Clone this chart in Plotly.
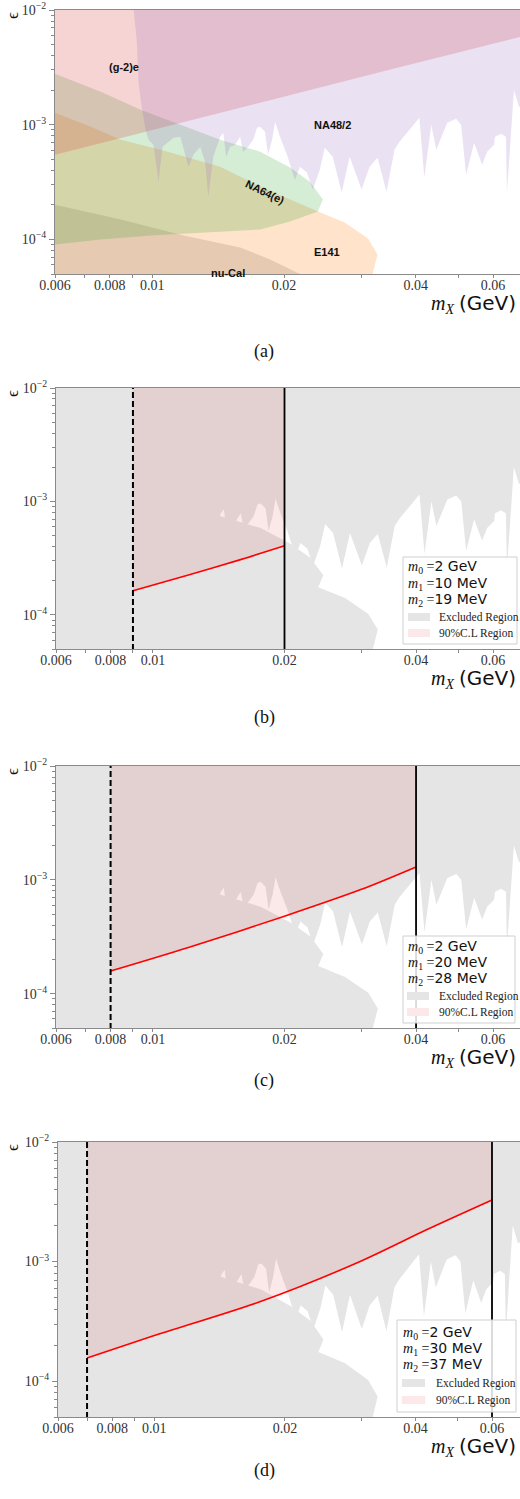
import math
import plotly.graph_objects as go

W, H = 520, 1499

# ---------------- data: dark-photon mass m_X (GeV) vs epsilon ----------------
# (g-2)e : excluded above this edge
g2e_m = [0.006, 0.00992, 0.01764, 0.0348, 0.07]
g2e_eps = [5.48e-4, 8.87e-4, 1.553e-3, 3.01e-3, 5.9e-3]

# NA64(e) : closed contour (upper edge, then lower edge back)
na64_m = [0.006, 0.00763, 0.00941, 0.0116, 0.0143, 0.01764, 0.02064, 0.02291, 0.02453,
          0.02389, 0.02064, 0.01764, 0.01288, 0.00992, 0.00763, 0.006]
na64_eps = [2.78e-3, 1.94e-3, 1.35e-3, 1.0e-3, 7.41e-4, 5.82e-4, 4.23e-4, 3.19e-4, 2.23e-4,
            1.75e-4, 1.434e-4, 1.222e-4, 1.151e-4, 1.083e-4, 1.0e-4, 9.05e-5]

# E141 : excluded below this edge
e141_m = [0.006, 0.00724, 0.00848, 0.01045, 0.0143, 0.01764, 0.02389, 0.02752, 0.0311, 0.0327, 0.03186]
e141_eps = [1.272e-3, 9.61e-4, 7.41e-4, 6.06e-4, 4.31e-4, 2.89e-4, 1.75e-4, 1.405e-4, 1.02e-4, 7.41e-5, 5.0e-5]

# nu-Cal : excluded below this edge
nucal_m = [0.006, 0.00848, 0.01179, 0.01588, 0.01858, 0.02175]
nucal_eps = [2.01e-4, 1.49e-4, 1.083e-4, 8.52e-5, 6.70e-5, 5.0e-5]

# NA48/2 : excluded above this (jagged) edge
na48_m = [0.00907, 0.00922, 0.00931, 0.00946, 0.00966, 0.00981, 0.01007, 0.01034, 0.01056, 0.01119,
          0.0116, 0.01191, 0.0121, 0.01242, 0.01288, 0.01322, 0.01343, 0.01379, 0.0143, 0.01453,
          0.01476, 0.01507, 0.01547, 0.01588, 0.01613, 0.01656, 0.017, 0.01736, 0.01764, 0.0181,
          0.01839, 0.01878, 0.01908, 0.01958, 0.02031, 0.02118, 0.02175, 0.02256, 0.02327, 0.02414,
          0.02478, 0.02584, 0.02708, 0.02824, 0.03007, 0.03136, 0.0327, 0.03428, 0.03575, 0.0367,
          0.04074, 0.04182, 0.04338, 0.04453, 0.04717, 0.04944, 0.05075, 0.05209, 0.05433, 0.05666,
          0.05817, 0.06033, 0.06064, 0.06258, 0.06423, 0.06457, 0.06698, 0.06877]
na48_eps = [1.0e-2, 5.48e-3, 2.32e-3, 1.434e-3, 9.05e-4, 7.41e-4, 6.70e-4, 3.19e-4, 6.44e-4, 7.71e-4,
            7.86e-4, 5.27e-4, 4.31e-4, 5.48e-4, 6.44e-4, 4.67e-4, 2.37e-4, 5.27e-4, 7.86e-4, 8.52e-4,
            5.27e-4, 6.44e-4, 6.70e-4, 7.86e-4, 5.82e-4, 6.44e-4, 7.41e-4, 9.42e-4, 9.61e-4, 8.69e-4,
            5.48e-4, 7.41e-4, 1.062e-3, 7.86e-4, 5.48e-4, 3.32e-4, 4.31e-4, 3.83e-4, 2.72e-4, 4.06e-4,
            6.31e-4, 5.27e-4, 2.56e-4, 5.27e-4, 2.72e-4, 4.31e-4, 5.16e-4, 2.61e-4, 6.06e-4, 7.12e-4,
            1.151e-3, 3.46e-4, 1.0e-3, 6.06e-4, 1.041e-3, 1.128e-3, 1.0e-3, 3.67e-4, 6.97e-4, 4.49e-4,
            5.82e-4, 6.70e-4, 7.86e-4, 8.35e-4, 7.86e-4, 2.56e-4, 2.01e-3, 1.434e-3]
assert len(na48_m) == len(na48_eps)

# panels (b)-(d): model parameters, kinematic limits and 90% C.L. lower curves
m0_gev = [2, 2, 2]
m1_mev = [10, 20, 30]
m2_mev = [19, 28, 37]
dash_x = [0.009, 0.008, 0.007]
solid_x = [0.02, 0.04, 0.06]
cl_m = [[0.009, 0.012, 0.016, 0.02],
        [0.008, 0.012, 0.02, 0.03, 0.04],
        [0.007, 0.01, 0.0175, 0.0298, 0.0425, 0.06]]
cl_eps = [[1.63e-4, 2.23e-4, 3.1e-4, 4.06e-4],
          [1.58e-4, 2.53e-4, 4.8e-4, 8.26e-4, 1.3e-3],
          [1.56e-4, 2.4e-4, 4.6e-4, 1.0e-3, 1.85e-3, 3.27e-3]]

x_labels = [0.006, 0.008, 0.01, 0.02, 0.04, 0.06]
x_label_text = ["0.006", "0.008", "0.01", "0.02", "0.04", "0.06"]
x_minor = [0.007, 0.009, 0.03, 0.05, 0.07]
y_major = [1e-4, 1e-3, 1e-2]
y_major_text = ["10<sup>\u22124</sup>", "10<sup>\u22123</sup>", "10<sup>\u22122</sup>"]
y_minor = [k * 10.0 ** e for e in (-5, -4, -3) for k in range(2, 10) if 5e-5 <= k * 10.0 ** e <= 1e-2]

YMIN, YMAX = 5e-5, 1e-2
XL, XR, YB, YT = 0.006, 0.075, 4.9e-5, 1.02e-2

# ---------------- style ----------------
AX = "#8a8a8a"
GRAY = "rgb(229,229,229)"
SERIF = "Liberation Serif"
SANS = "DejaVu Sans"

panels = [
    dict(left=55, top=10, bottom=274, dec=438),
    dict(left=56, top=388, bottom=649, dec=437),
    dict(left=56, top=766, bottom=1028, dec=437),
    dict(left=58, top=1142, bottom=1417, dec=434),
]


def px(x, y):
    return x / W, 1 - y / H


def poly_above(ms, es):
    return list(ms) + [XR, XL], list(es) + [YT, YT]


def poly_below(ms, es):
    return list(ms) + [ms[-1], ms[0]], list(es) + [YB, YB]


def na48_poly():
    return list(na48_m) + [XR, XR, na48_m[0]], list(na48_eps) + [na48_eps[-1], YT, YT]


def white_poly():
    return list(na48_m) + [XR, XR, na48_m[0]], list(na48_eps) + [na48_eps[-1], YB, YB]


fig = go.Figure()


def axes_ids(i):
    return ("x" if i == 0 else f"x{i+1}"), ("y" if i == 0 else f"y{i+1}")


def add_fill(xs, ys, color, i):
    xa, ya = axes_ids(i)
    fig.add_trace(go.Scatter(x=xs, y=ys, mode="lines", fill="toself", fillcolor=color,
                             line=dict(width=0, color=color), hoverinfo="skip", showlegend=False,
                             xaxis=xa, yaxis=ya))


# ---- panel (a): individual constraints ----
add_fill(*poly_below(nucal_m, nucal_eps), "rgba(127,127,127,0.25)", 0)
add_fill(*poly_below(e141_m, e141_eps), "rgba(255,127,14,0.22)", 0)
add_fill(na64_m, na64_eps, "rgba(44,160,44,0.2)", 0)
add_fill(*poly_above(g2e_m, g2e_eps), "rgba(214,39,40,0.2)", 0)
add_fill(*na48_poly(), "rgba(148,103,189,0.2)", 0)

# ---- panels (b)-(d) ----
for k in range(3):
    i = k + 1
    xa, ya = axes_ids(i)
    add_fill(*white_poly(), "white", i)
    add_fill(*poly_above(g2e_m, g2e_eps), GRAY, i)
    add_fill(na64_m, na64_eps, GRAY, i)
    add_fill(*poly_below(e141_m, e141_eps), GRAY, i)
    add_fill(*poly_below(nucal_m, nucal_eps), GRAY, i)
    # 90% C.L. region: from the top of the plot down to the red curve
    fig.add_trace(go.Scatter(x=[cl_m[k][0], cl_m[k][-1]], y=[YT, YT], mode="lines",
                             line=dict(width=0), hoverinfo="skip", showlegend=False, xaxis=xa, yaxis=ya))
    fig.add_trace(go.Scatter(x=cl_m[k], y=cl_eps[k], mode="lines", fill="tonexty",
                             fillcolor="rgba(214,39,40,0.1)",
                             line=dict(color="red", width=1.6, shape="spline", smoothing=0.8),
                             hoverinfo="skip", showlegend=False, xaxis=xa, yaxis=ya))
    fig.add_trace(go.Scatter(x=[dash_x[k], dash_x[k]], y=[YB, YT], mode="lines",
                             line=dict(color="black", width=2, dash="6px,3px"),
                             hoverinfo="skip", showlegend=False, xaxis=xa, yaxis=ya))
    fig.add_trace(go.Scatter(x=[solid_x[k], solid_x[k]], y=[YB, YT], mode="lines",
                             line=dict(color="black", width=1.8),
                             hoverinfo="skip", showlegend=False, xaxis=xa, yaxis=ya))

# ---------------- axes ----------------
layout = dict(width=W, height=H, margin=dict(l=0, r=0, t=0, b=0), template="none",
              paper_bgcolor="white", plot_bgcolor="white", showlegend=False)
lx0 = math.log10(0.006)
shapes, annotations = [], []
for i, p in enumerate(panels):
    xk = "xaxis" if i == 0 else f"xaxis{i+1}"
    yk = "yaxis" if i == 0 else f"yaxis{i+1}"
    xid, yid = axes_ids(i)
    layout[xk] = dict(type="log", domain=[p["left"] / W, 1.0],
                      range=[lx0, lx0 + (W - p["left"]) / p["dec"]], anchor=yid,
                      showline=True, linecolor=AX, linewidth=1, mirror=True,
                      showgrid=False, zeroline=False, ticks="outside", ticklen=3, tickwidth=1,
                      tickcolor=AX, tickmode="array", tickvals=x_labels, ticktext=x_label_text,
                      ticklabelstandoff=-5,
                      tickfont=dict(family=SERIF, size=14, color="#333"),
                      minor=dict(tickmode="array", tickvals=x_minor, ticks="outside", ticklen=3,
                                 tickcolor=AX, showgrid=False))
    layout[yk] = dict(type="log", domain=[1 - p["bottom"] / H, 1 - p["top"] / H],
                      range=[math.log10(YMIN), math.log10(YMAX)], anchor=xid,
                      showline=True, linecolor=AX, linewidth=1, mirror=False,
                      showgrid=False, zeroline=False, ticks="outside", ticklen=5, tickwidth=1,
                      tickcolor=AX, tickmode="array", tickvals=y_major, ticktext=y_major_text,
                      tickfont=dict(family=SERIF, size=14, color="#333"),
                      minor=dict(tickmode="array", tickvals=y_minor, ticks="outside", ticklen=3,
                                 tickcolor=AX, showgrid=False))
    if i > 0:
        shapes.append(dict(type="rect", xref=f"{xid} domain", yref=f"{yid} domain",
                           x0=0, x1=1, y0=0, y1=1, fillcolor=GRAY, line=dict(width=0), layer="below"))
    # y label (epsilon)
    ex, ey = px(12, p["top"] + 6)
    annotations.append(dict(x=ex, y=ey, xref="paper", yref="paper", text="\u03f5", showarrow=False,
                            xanchor="center", yanchor="middle",
                            textangle=-90, font=dict(family=SERIF, size=17, color="#111")))

# x titles and captions
xt_y = [304, 679, 1058, 1447]
cap_y = [339, 717, 1093, 1483]
for i, lab in enumerate(["(a)", "(b)", "(c)", "(d)"]):
    tx, ty = px(518, xt_y[i])
    annotations.append(dict(x=tx, y=ty, xref="paper", yref="paper", xanchor="right", yanchor="middle",
                            showarrow=False,
                            text='<i>m</i><sub><i>X</i></sub> <span style="font-family:DejaVu Sans">(GeV)</span>',
                            font=dict(family=SERIF, size=20, color="#111")))
    cx_, cy_ = px(264, cap_y[i])
    annotations.append(dict(x=cx_, y=cy_, xref="paper", yref="paper", showarrow=False, text=lab,
                            font=dict(family=SERIF, size=18, color="#111")))

# panel (a) region labels
for text, x, y, ang in [("(g-2)e", 107, 59, 0), ("NA48/2", 332, 117, 0), ("NA64(e)", 265, 175, 26),
                        ("E141", 327, 244, 0), ("nu-Cal", 228, 265, 0)]:
    ax_, ay_ = px(x, y)
    annotations.append(dict(x=ax_, y=ay_, xref="paper", yref="paper", showarrow=False, text=f"<b>{text}</b>",
                            textangle=ang, font=dict(family="Liberation Sans", size=11, color="#111")))

# legends for (b)-(d)
legend_geo = [
    dict(box=(403, 557, 517, 644), rows=[567, 584, 600, 617, 633], tx=407, px0=408, px1=430, sx=437),
    dict(box=(403, 936, 515, 1023), rows=[947, 963, 979, 996, 1012], tx=407, px0=407, px1=429, sx=437),
    dict(box=(397, 1320, 516, 1412), rows=[1333, 1349, 1365, 1383, 1400], tx=402, px0=402, px1=425, sx=434),
]
for k, g in enumerate(legend_geo):
    x0, y0, x1, y1 = g["box"]
    a0, b0 = px(x0, y1)
    a1, b1 = px(x1, y0)
    shapes.append(dict(type="rect", xref="paper", yref="paper", x0=a0, y0=b0, x1=a1, y1=b1,
                       fillcolor="rgba(255,255,255,0.85)", line=dict(color="#cfcfcf", width=1)))
    vals = [f"{m0_gev[k]} GeV", f"{m1_mev[k]} MeV", f"{m2_mev[k]} MeV"]
    for j in range(3):
        lx, ly = px(g["tx"], g["rows"][j])
        annotations.append(dict(x=lx, y=ly, xref="paper", yref="paper", xanchor="left", yanchor="middle",
                                showarrow=False, borderpad=0,
                                text=f'<i>m</i><sub>{j}</sub> =<span style="font-family:DejaVu Sans">{vals[j]}</span>',
                                font=dict(family=SERIF, size=14, color="#111")))
    for j, (lab, col) in enumerate([("Excluded Region", GRAY), ("90%C.L Region", "rgb(252,232,232)")]):
        r = g["rows"][3 + j]
        p0x, p0y = px(g["px0"], r + 4)
        p1x, p1y = px(g["px1"], r - 4)
        shapes.append(dict(type="rect", xref="paper", yref="paper", x0=p0x, y0=p0y, x1=p1x, y1=p1y,
                           fillcolor=col, line=dict(width=0)))
        sx, sy = px(g["sx"], r)
        annotations.append(dict(x=sx, y=sy, xref="paper", yref="paper", xanchor="left", yanchor="middle",
                                showarrow=False, text=lab, font=dict(family=SERIF, size=11.5, color="#222")))

layout["shapes"] = shapes
layout["annotations"] = annotations
fig.update_layout(**layout)
fig.write_html("out.html", config={"displayModeBar": False},
               post_script="document.body.style.margin='0';document.body.style.padding='0';"
                           "document.body.style.overflow='hidden';"
                           "document.documentElement.style.overflow='hidden';")
